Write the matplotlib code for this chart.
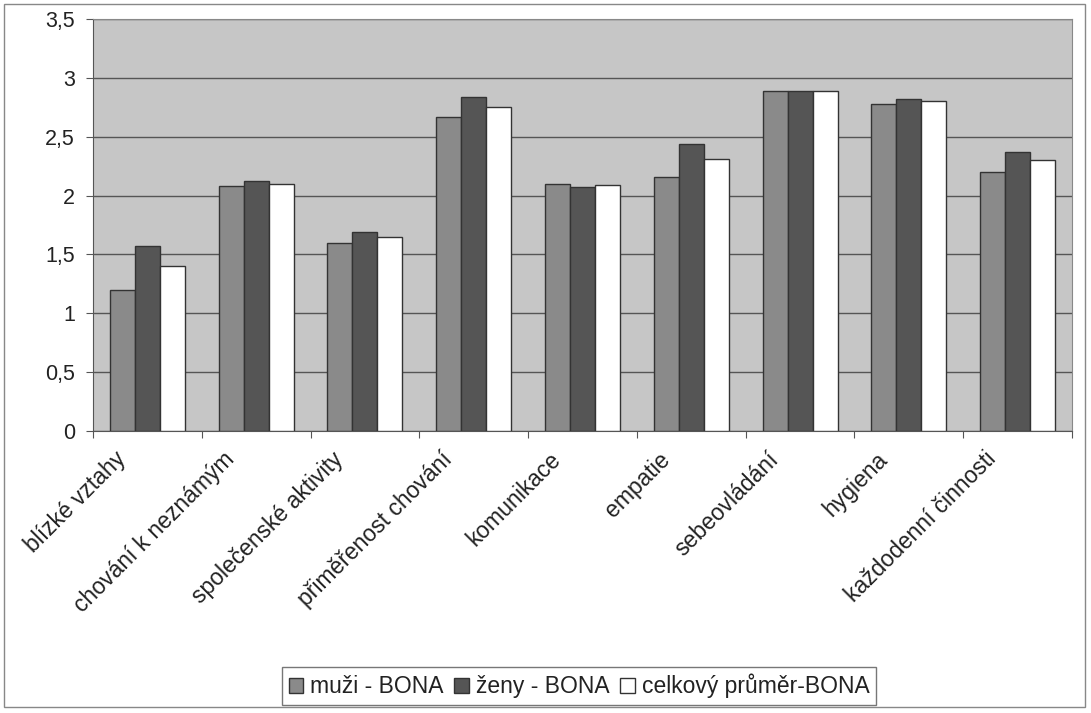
import numpy as np
import matplotlib
matplotlib.use("Agg")
import matplotlib.pyplot as plt
import matplotlib.transforms as mtransforms
from matplotlib.patches import Rectangle

plt.rcParams['font.family'] = ['Liberation Sans', 'DejaVu Sans']

categories = ['blízké vztahy', 'chování k neznámým', 'společenské aktivity',
              'přiměřenost chování', 'komunikace', 'empatie', 'sebeovládání',
              'hygiena', 'každodenní činnosti']
muzi = [1.20, 2.08, 1.60, 2.67, 2.10, 2.16, 2.89, 2.78, 2.20]
zeny = [1.57, 2.12, 1.69, 2.84, 2.07, 2.44, 2.89, 2.82, 2.37]
celkem = [1.40, 2.10, 1.65, 2.75, 2.09, 2.31, 2.89, 2.80, 2.30]
series_names = ['muži - BONA', 'ženy - BONA', 'celkový průměr-BONA']
colors = ['#8a8a8a', '#555555', '#ffffff']

fig = plt.figure(figsize=(10.91, 7.13), dpi=100)
ax = fig.add_axes([93/1091, 1 - 431/713, (1072-93)/1091, (431-19)/713])
ax.set_facecolor('#c6c6c6')

x = np.arange(len(categories))
w = 0.23
for i, (vals, name, c) in enumerate(zip([muzi, zeny, celkem], series_names, colors)):
    ax.bar(x + (i - 1) * w, vals, width=w, color=c, edgecolor='#333333',
           linewidth=1.0, label=name, zorder=3)

ax.set_xlim(-0.5, len(categories) - 0.5)
ax.set_ylim(0, 3.5)
yt = np.arange(0, 3.51, 0.5)
ax.set_yticks(yt)
ax.set_yticklabels([('%g' % v).replace('.', ',') for v in yt], fontsize=15.5,
                   color='#222222')
ax.yaxis.grid(True, color='#555555', linewidth=1.0, zorder=0)
ax.set_axisbelow(True)

# category ticks at boundaries, labels at centres
ax.set_xticks(np.arange(-0.5, len(categories)), minor=False)
ax.set_xticklabels([])
ax.set_xticks(x, minor=True)
ax.set_xticklabels(categories, minor=True, rotation=45, ha='right',
                   rotation_mode='anchor', fontsize=16.5, color='#222222')
ax.tick_params(axis='x', which='minor', length=0, pad=12)
ax.tick_params(axis='x', which='major', length=5, color='#555555')
ax.tick_params(axis='y', length=5, color='#555555', pad=8)
shift = mtransforms.ScaledTranslation(-0.33, 0, fig.dpi_scale_trans)
for lab in ax.get_xticklabels(minor=True):
    lab.set_transform(lab.get_transform() + shift)

for side in ['left', 'bottom']:
    ax.spines[side].set_color('#555555')
for side in ['top', 'right']:
    ax.spines[side].set_color('#888888')

leg = fig.legend(loc='center', bbox_to_anchor=(579/1091, 1 - 686/713), ncol=3,
                 frameon=True, fancybox=False, edgecolor='#555555', fontsize=16.5,
                 handlelength=0.65, handleheight=0.65, handletextpad=0.3,
                 columnspacing=0.45, borderpad=0.3)
leg.get_frame().set_linewidth(1.0)
for t in leg.get_texts():
    t.set_color('#222222')

fig.patches.append(Rectangle((4/1091, 1 - 707/713), 1081/1091, 703/713,
                             transform=fig.transFigure, fill=False,
                             edgecolor='#888888', linewidth=1.0))

fig.savefig('out.png', dpi=100)
